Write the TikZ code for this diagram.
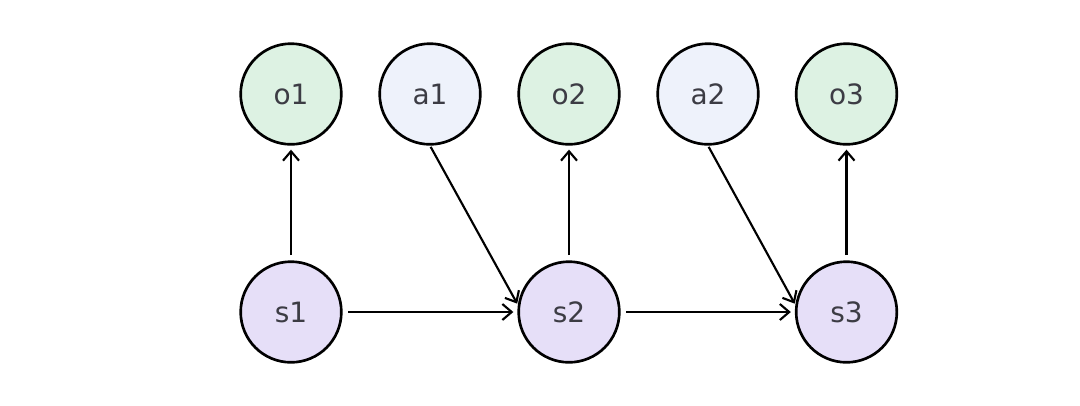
\documentclass[tikz,border=0pt]{standalone}
\usepackage{fontspec}
\setmainfont{DejaVu Sans}
\usetikzlibrary{arrows.meta}
\definecolor{ofill}{HTML}{DDF2E3}
\definecolor{afill}{HTML}{EEF2FB}
\definecolor{sfill}{HTML}{E6DFF8}
\definecolor{txt}{HTML}{3C3C44}
\tikzset{
  var/.style={circle, draw=black, line width=2pt, minimum size=75.5pt, inner sep=0pt,
    text=txt, font=\fontsize{21}{24}\selectfont},
  obs/.style={var, fill=ofill},
  act/.style={var, fill=afill},
  st/.style={var, fill=sfill},
  edge/.style={line width=1.6pt, -{Straight Barb[length=7pt,width=12pt,line width=1.6pt]}, shorten >=3pt, shorten <=4pt}
}
\begin{document}
\begin{tikzpicture}[x=0.75pt,y=-0.75pt]
\useasboundingbox (0,0) rectangle (1080,405);
\fill[white] (0,0) rectangle (1080,405);
\node[obs] (o1) at (291,94) {o1};
\node[act] (a1) at (430,94) {a1};
\node[obs] (o2) at (569,94) {o2};
\node[act] (a2) at (708,94) {a2};
\node[obs] (o3) at (846.5,94) {o3};
\node[st] (s1) at (291,312) {s1};
\node[st] (s2) at (569,312) {s2};
\node[st] (s3) at (846.5,312) {s3};
\draw[edge] (s1) -- (o1);
\draw[edge] (s2) -- (o2);
\draw[edge] (s3) -- (o3);
\draw[edge] (s1) -- (s2);
\draw[edge] (s2) -- (s3);
\draw[edge, shorten <=1pt, shorten >=1pt] (a1.south) -- (s2.172);
\draw[edge, shorten <=1pt, shorten >=1pt] (a2.south) -- (s3.172);
\end{tikzpicture}
\end{document}
